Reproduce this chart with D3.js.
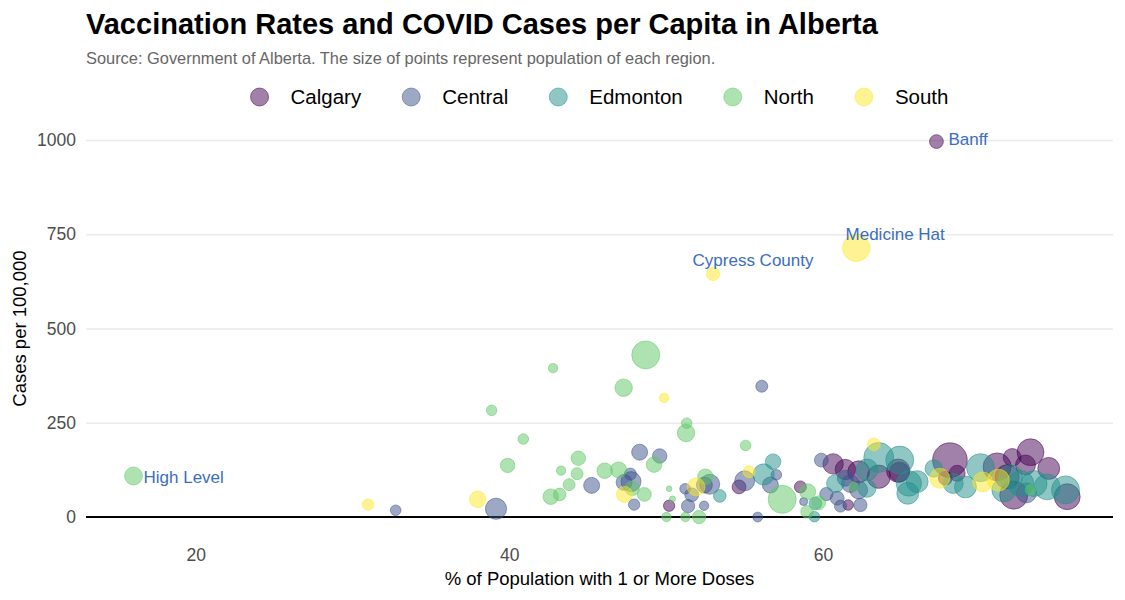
<!DOCTYPE html>
<html>
<head>
<meta charset="utf-8">
<script src="https://cdn.jsdelivr.net/npm/d3@7/dist/d3.min.js"></script>
<style>
  html, body { margin: 0; padding: 0; background: #ffffff; }
  svg { display: block; font-family: "Liberation Sans", Arial, sans-serif; }
</style>
</head>
<body>
<svg id="chart" width="1125" height="600"></svg>
<script>
// ---------------- DATA ----------------
const regions = ["Calgary", "Central", "Edmonton", "North", "South"];
const regionColors = ["#440154", "#3B528B", "#21908C", "#5DC863", "#FDE725"];

// each point: [pct with 1+ doses, cases per 100k, population (thousands)]
const calgary = [
  [67.24, 996, 12], [50.19, 30, 8], [54.65, 80, 12], [61.43, 126, 26], [60.65, 141, 26],
  [58.56, 80, 9], [61.61, 32, 7], [62.28, 120, 30], [63.56, 107, 34], [64.80, 123, 34],
  [64.88, 119, 25], [68.10, 151, 75], [68.56, 116, 16], [71.11, 133, 49], [72.07, 158, 20],
  [73.24, 172, 45], [74.40, 129, 30], [75.58, 54, 42], [72.17, 58, 49], [71.75, 107, 36],
  [72.92, 138, 25], [67.81, 103, 12]
];
const central = [
  [32.75, 18, 7], [39.15, 22, 28], [56.10, 347, 9], [48.31, 172, 16], [49.59, 162, 13],
  [47.72, 114, 9], [47.32, 92, 16], [47.76, 94, 25], [47.96, 33, 8], [45.25, 84, 16],
  [51.21, 75, 7], [51.63, 59, 12], [51.40, 29, 11], [52.42, 30, 5.5], [52.78, 87, 25],
  [52.44, 85, 16], [55.01, 96, 25], [57.03, 112, 7], [56.65, 85, 16], [55.84, 0, 6],
  [59.90, 151, 12], [58.77, 41, 4], [60.22, 61, 11], [60.91, 50, 12], [61.12, 29, 9],
  [62.39, 32, 11], [61.43, 103, 16], [61.75, 89, 20], [62.28, 72, 20], [72.98, 64, 25]
];
const edmonton = [
  [56.82, 147, 15], [53.42, 56, 10], [56.22, 113, 28], [59.52, 36, 10], [59.46, 1, 7],
  [60.80, 89, 20], [62.81, 76, 20], [62.81, 125, 30], [63.56, 158, 56], [64.90, 151, 49],
  [65.48, 89, 40], [66.01, 94, 30], [65.41, 63, 30], [67.07, 129, 19], [68.31, 89, 25],
  [69.09, 80, 30], [70.05, 131, 49], [71.96, 107, 36], [72.62, 89, 42], [73.47, 89, 42],
  [74.30, 80, 42], [75.47, 72, 49], [71.54, 72, 36]
];
const north = [
  [16.03, 109, 20], [42.79, 395, 5.5], [38.87, 283, 7], [40.89, 207, 7], [39.89, 137, 13],
  [44.40, 156, 13], [43.30, 123, 5.5], [44.32, 115, 9], [43.81, 86, 9], [42.64, 54, 15],
  [43.21, 60, 10], [48.70, 430, 49], [47.29, 343, 19], [51.31, 249, 7], [51.27, 223, 19],
  [55.07, 190, 7], [49.23, 139, 15], [46.08, 123, 15], [46.97, 125, 16], [47.83, 76, 13],
  [48.61, 60, 12], [50.19, 75, 2], [50.40, 48, 2.3], [50.02, 0, 5.5], [51.23, 0, 5.5],
  [52.10, 0, 11], [52.50, 107, 15], [57.40, 47, 49], [59.03, 67, 16], [59.73, 38, 12],
  [58.99, 14, 10], [61.96, 80, 6], [73.24, 72, 7]
];
const south = [
  [30.99, 33, 8], [37.98, 47, 17], [49.87, 316, 5.5], [47.34, 60, 16], [51.91, 80, 20],
  [55.29, 120, 9], [63.25, 193, 10], [67.45, 103, 25], [70.19, 93, 25], [71.19, 98, 30],
  [62.12, 714, 47], [52.99, 645, 11]
];
const seriesData = [calgary, central, edmonton, north, south];

// labelled regions: [series index, point index]
const labelNames = ["Banff", "Medicine Hat", "Cypress County", "High Level"];
const labelRefs = [[0, 0], [4, 10], [4, 11], [3, 0]];

const xTicks = [20, 40, 60];
const yTicks = [0, 250, 500, 750, 1000];

const titleText = "Vaccination Rates and COVID Cases per Capita in Alberta";
const subtitleText = "Source: Government of Alberta. The size of points represent population of each region.";
const xTitle = "% of Population with 1 or More Doses";
const yTitle = "Cases per 100,000";

// ---------------- LAYOUT ----------------
const svg = d3.select("#chart");
const pL = 86, pR = 1113, pT = 121.2, pB = 535.9;

const x = d3.scaleLinear().domain([13.0, 78.5]).range([pL, pR]);
const y = d3.scaleLinear().domain([-50, 1050]).range([pB, pT]);
const rScale = d3.scaleSqrt().domain([0, 100]).range([0, 20]);
const color = d3.scaleOrdinal().domain(regions).range(regionColors);

// grid
const grid = svg.append("g").attr("transform", `translate(${pL},0)`)
  .call(d3.axisLeft(y).tickValues(yTicks).tickSize(-(pR - pL)).tickFormat(""));
grid.select(".domain").remove();
grid.selectAll("line").attr("stroke", "#ebebeb").attr("stroke-width", 1.6);

// y axis labels
const yAxis = svg.append("g").attr("transform", `translate(${pL},0)`)
  .call(d3.axisLeft(y).tickValues(yTicks).tickSize(0).tickPadding(10).tickFormat(d3.format("d")));
yAxis.select(".domain").remove();
yAxis.selectAll("text").attr("fill", "#4d4d4d").style("font-size", "17.5px")
  .style("font-family", "Liberation Sans, Arial, sans-serif");

// x axis labels
const xAxis = svg.append("g").attr("transform", `translate(0,${pB})`)
  .call(d3.axisBottom(x).tickValues(xTicks).tickSize(0).tickPadding(13).tickFormat(d3.format("d")));
xAxis.select(".domain").remove();
xAxis.selectAll("text").attr("fill", "#4d4d4d").style("font-size", "17.5px")
  .style("font-family", "Liberation Sans, Arial, sans-serif");

// zero line
svg.append("line")
  .attr("x1", pL).attr("x2", pR)
  .attr("y1", y(0)).attr("y2", y(0))
  .attr("stroke", "#000").attr("stroke-width", 2);

// points
const pts = [];
seriesData.forEach((arr, si) => arr.forEach(p => pts.push({ region: regions[si], pct: p[0], cases: p[1], pop: p[2] })));

svg.append("g").selectAll("circle").data(pts).join("circle")
  .attr("cx", d => x(d.pct))
  .attr("cy", d => y(d.cases))
  .attr("r", d => rScale(d.pop))
  .attr("fill", d => color(d.region))
  .attr("fill-opacity", 0.5)
  .attr("stroke", d => color(d.region))
  .attr("stroke-opacity", 0.5)
  .attr("stroke-width", 1);

// labels
const labelStyle = {
  "Banff": { dx: 12, dy: 3, anchor: "start" },
  "Medicine Hat": { dx: 39, dy: -8, anchor: "middle" },
  "Cypress County": { dx: 40, dy: -8, anchor: "middle" },
  "High Level": { dx: 10, dy: 7, anchor: "start" }
};
labelNames.forEach((name, i) => {
  const [si, pi] = labelRefs[i];
  const p = seriesData[si][pi];
  const st = labelStyle[name];
  svg.append("text")
    .attr("x", x(p[0]) + st.dx)
    .attr("y", y(p[1]) + st.dy)
    .attr("text-anchor", st.anchor)
    .attr("fill", "#3b6dc0")
    .style("font-size", "17px")
    .text(name);
});

// axis titles
svg.append("text").attr("x", (pL + pR) / 2).attr("y", 585)
  .attr("text-anchor", "middle").style("font-size", "18.5px").attr("fill", "#000").text(xTitle);
svg.append("text").attr("transform", `translate(26,${(pT + pB) / 2}) rotate(-90)`)
  .attr("text-anchor", "middle").style("font-size", "18.5px").attr("fill", "#000").text(yTitle);

// title & subtitle
svg.append("text").attr("x", 86).attr("y", 34)
  .style("font-size", "29px").style("font-weight", "bold").attr("fill", "#000").text(titleText);
svg.append("text").attr("x", 86).attr("y", 64)
  .style("font-size", "16.4px").attr("fill", "#666666").text(subtitleText);

// legend
const legend = svg.append("g");
let cx = 0;
regions.forEach((reg, i) => {
  const g = legend.append("g");
  g.append("circle").attr("cx", cx).attr("cy", 0).attr("r", 9)
    .attr("fill", regionColors[i]).attr("fill-opacity", 0.5)
    .attr("stroke", regionColors[i]).attr("stroke-opacity", 0.5).attr("stroke-width", 1);
  const t = g.append("text").attr("x", cx + 31).attr("y", 0).attr("dy", "0.35em")
    .style("font-size", "20.5px").attr("fill", "#000").text(reg);
  const w = t.node().getComputedTextLength();
  cx = cx + 31 + w + (i < regions.length - 1 ? 50 : 0);
});
const bb = legend.node().getBBox();
legend.attr("transform", `translate(${(pL + pR) / 2 - (bb.x + bb.width / 2)},97)`);
</script>
</body>
</html>
